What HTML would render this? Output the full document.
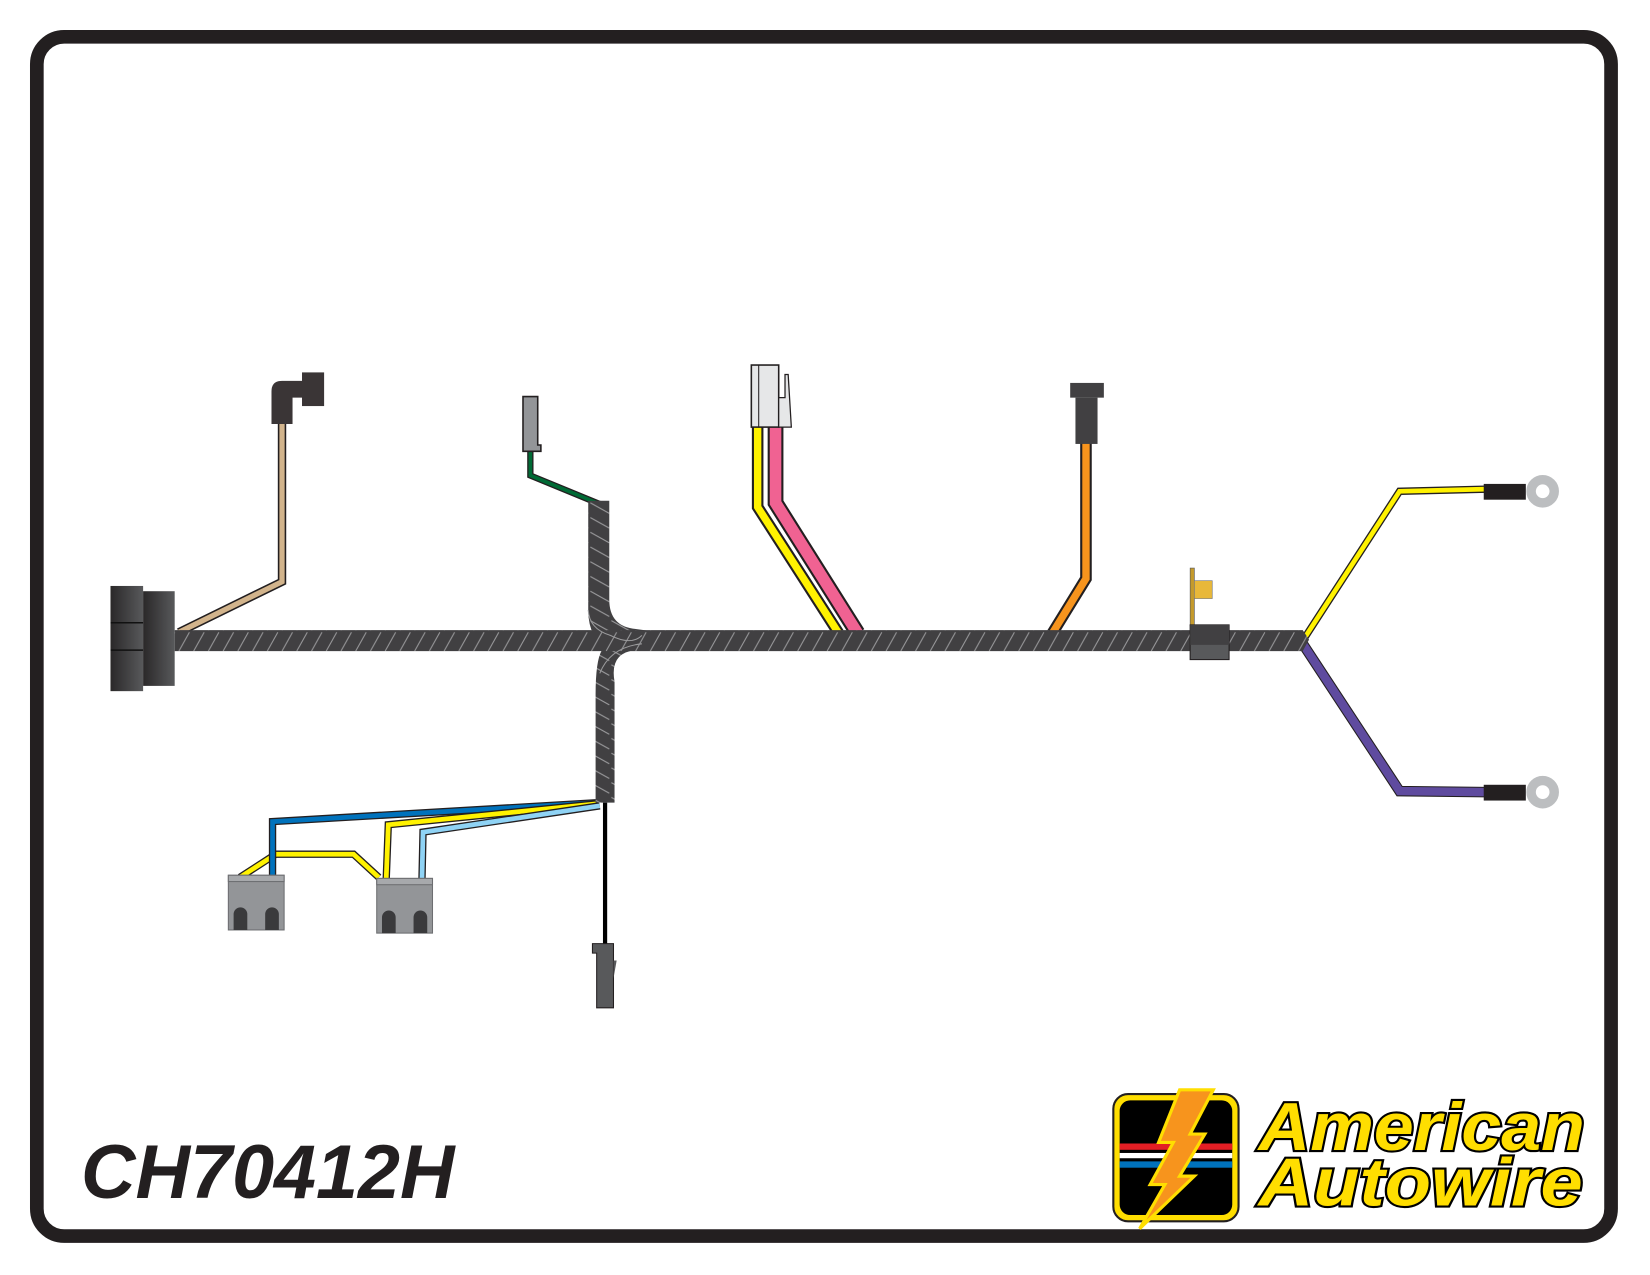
<!DOCTYPE html>
<html><head><meta charset="utf-8"><style>html,body{margin:0;padding:0;background:#fff}svg{display:block}</style></head>
<body>
<svg width="1650" height="1275" viewBox="0 0 1568 1212" preserveAspectRatio="none" xmlns="http://www.w3.org/2000/svg">
<defs>
<pattern id="hx" width="14" height="20" patternUnits="userSpaceOnUse">
<rect width="14" height="20" fill="#414042"/>
<line x1="2" y1="19" x2="12" y2="1" stroke="#9a9a9c" stroke-width="1"/>
</pattern>
<pattern id="hy" width="20" height="14" patternUnits="userSpaceOnUse">
<rect width="20" height="14" fill="#414042"/>
<line x1="1" y1="2" x2="19" y2="12" stroke="#9a9a9c" stroke-width="1"/>
</pattern>
<linearGradient id="cg" x1="0" x2="1"><stop offset="0" stop-color="#2a2829"/><stop offset="1" stop-color="#58595b"/></linearGradient>
</defs>
<rect x="35" y="35" width="1496" height="1140" rx="26" fill="#fff" stroke="#231f20" stroke-width="13"/>

<!-- tan wire -->
<polyline points="170,601 268,553 268,403" fill="none" stroke="#231f20" stroke-width="8"/>
<polyline points="170,601 268,553 268,403" fill="none" stroke="#d2b48c" stroke-width="5"/>
<path d="M258,403 V372 Q258,362 268,362 H290 V378 H278 V403 Z" fill="#3a3536"/>
<rect x="287" y="354" width="21" height="32" fill="#3a3536"/>

<!-- green -->
<polyline points="504,428 504,452 572,480" fill="none" stroke="#231f20" stroke-width="6"/>
<polyline points="504,428 504,452 572,480" fill="none" stroke="#006a35" stroke-width="3.5"/>
<path d="M497,377 H511 V423 H514 V429 H497 Z" fill="#939598" stroke="#231f20" stroke-width="1.5"/>

<!-- yellow/pink -->
<polyline points="720,406 720,482 797,602" fill="none" stroke="#231f20" stroke-width="11"/>
<polyline points="720,406 720,482 797,602" fill="none" stroke="#fff200" stroke-width="7"/>
<polyline points="737,406 737,478 815,602" fill="none" stroke="#231f20" stroke-width="15"/>
<polyline points="737,406 737,478 815,602" fill="none" stroke="#f06292" stroke-width="11"/>
<rect x="714" y="347" width="26" height="59" fill="#e6e7e8" stroke="#231f20" stroke-width="1.5"/>
<line x1="721" y1="347" x2="721" y2="406" stroke="#231f20" stroke-width="1"/>
<path d="M740,378 H746 V356 H749 L752,406 H740 Z" fill="#e6e7e8" stroke="#231f20" stroke-width="1.2"/>

<!-- orange -->
<polyline points="1032,420 1032,550 1000,602" fill="none" stroke="#231f20" stroke-width="11"/>
<polyline points="1032,420 1032,550 1000,602" fill="none" stroke="#f7941d" stroke-width="7"/>
<rect x="1017" y="364" width="32" height="14" fill="#414042"/>
<rect x="1022" y="378" width="21" height="44" fill="#414042"/>

<!-- right wires -->
<polyline points="1240,606 1330,467 1412,465" fill="none" stroke="#231f20" stroke-width="7"/>
<polyline points="1240,606 1330,467 1412,465" fill="none" stroke="#fff200" stroke-width="4.5"/>
<polyline points="1238,612 1330,752 1412,753" fill="none" stroke="#231f20" stroke-width="10"/>
<polyline points="1238,612 1330,752 1412,753" fill="none" stroke="#5f4b9f" stroke-width="8"/>
<rect x="1410" y="460" width="40" height="15" fill="#231f20"/>
<rect x="1410" y="746" width="40" height="15" fill="#231f20"/>
<circle cx="1466" cy="467" r="11" fill="none" stroke="#bcbec0" stroke-width="9"/>
<circle cx="1466" cy="753" r="11" fill="none" stroke="#bcbec0" stroke-width="9"/>

<!-- bottom wires -->
<polyline points="228,834 262,812 336,812 360,834" fill="none" stroke="#231f20" stroke-width="7"/>
<polyline points="228,834 262,812 336,812 360,834" fill="none" stroke="#fff200" stroke-width="4.5"/>
<polyline points="568,763 259,781 259,834" fill="none" stroke="#231f20" stroke-width="7"/>
<polyline points="568,763 259,781 259,834" fill="none" stroke="#0072bc" stroke-width="4.5"/>
<polyline points="568,764 369,784 367,836" fill="none" stroke="#231f20" stroke-width="7"/>
<polyline points="568,764 369,784 367,836" fill="none" stroke="#fff200" stroke-width="4.5"/>
<polyline points="570,766 402,791 401,836" fill="none" stroke="#231f20" stroke-width="7"/>
<polyline points="570,766 402,791 401,836" fill="none" stroke="#8fd3f5" stroke-width="4.5"/>
<line x1="575" y1="763" x2="575" y2="898" stroke="#000" stroke-width="4"/>
<path d="M563,897 H583 V958 H567 V906 H563 Z" fill="#58595b" stroke="#231f20" stroke-width="1"/>
<path d="M583,913 L586,913 L583,930 Z" fill="#58595b"/>

<g stroke="#6d6e71" stroke-width="1">
<rect x="217" y="832" width="53" height="52" fill="#939598"/>
<rect x="217" y="832" width="53" height="6" fill="#a7a9ac"/>
<rect x="358" y="835" width="53" height="52" fill="#939598"/>
<rect x="358" y="835" width="53" height="6" fill="#a7a9ac"/>
</g>
<g fill="#3a3a3c">
<path d="M222,884 V869 a6,6 0 0 1 13,0 V884Z"/><path d="M252,884 V869 a6,6 0 0 1 13,0 V884Z"/>
<path d="M363,887 V872 a6,6 0 0 1 13,0 V887Z"/><path d="M393,887 V872 a6,6 0 0 1 13,0 V887Z"/>
</g>

<!-- harness branches -->
<path d="M559,476 H579 V570 Q579,596 605,598 L620,600 V618 L605,618 Q579,620 584,648 V763 H566 V660 Q566,628 572,618 L568,610 Q559,598 559,580 Z" fill="url(#hy)"/>
<path d="M166,599 H1238 L1244,608 L1238,619 H166 Z" fill="url(#hx)"/>
<path d="M559,580 Q560,598 580,604 Q600,614 610,604 M570,640 Q580,615 610,612" stroke="#9a9a9c" fill="none" stroke-width="1"/>

<!-- big connector -->
<rect x="105" y="557" width="31" height="100" fill="url(#cg)"/>
<line x1="105" y1="592" x2="136" y2="592" stroke="#111" stroke-width="1.5"/>
<line x1="105" y1="618" x2="136" y2="618" stroke="#111" stroke-width="1.5"/>
<rect x="136" y="562" width="30" height="90" fill="url(#cg)"/>

<!-- clip -->
<rect x="1131" y="540" width="4" height="55" fill="#c49a2c" stroke="#555" stroke-width="0.6"/>
<rect x="1135" y="552" width="17" height="17" fill="#e8b83a" stroke="#777" stroke-width="0.6"/>
<rect x="1131" y="594" width="37" height="33" fill="#58595b" stroke="#231f20" stroke-width="1"/>
<rect x="1131" y="594" width="37" height="19" fill="#414042"/>

<text x="77" y="1139" font-family="Liberation Sans, sans-serif" font-weight="bold" font-style="italic" font-size="72" fill="#231f20" textLength="355" lengthAdjust="spacingAndGlyphs">CH70412H</text>

<!-- logo -->
<rect x="1058" y="1040" width="119" height="121" rx="14" fill="#ffde00" stroke="#231f20" stroke-width="2"/>
<rect x="1064" y="1046" width="107" height="109" rx="10" fill="#000"/>
<rect x="1064" y="1087" width="107" height="6" fill="#e31e24"/>
<rect x="1064" y="1096" width="107" height="5" fill="#fff"/>
<rect x="1064" y="1104" width="107" height="6" fill="#0072bc"/>
<path d="M1121,1036 L1153,1036 L1131,1078 L1145,1078 L1121,1118 L1135,1118 L1083,1168 L1107,1126 L1093,1126 L1115,1086 L1101,1086 Z" fill="#f7941d" stroke="#ffde00" stroke-width="3"/>
<g font-family="Liberation Sans, sans-serif" font-weight="bold" font-style="italic" font-size="64" fill="#ffde00" stroke="#000" stroke-width="4" paint-order="stroke">
<text x="1196" y="1093" textLength="310" lengthAdjust="spacingAndGlyphs">American</text>
<text x="1196" y="1146" textLength="308" lengthAdjust="spacingAndGlyphs">Autowire</text>
</g>
</svg>
</body></html>
